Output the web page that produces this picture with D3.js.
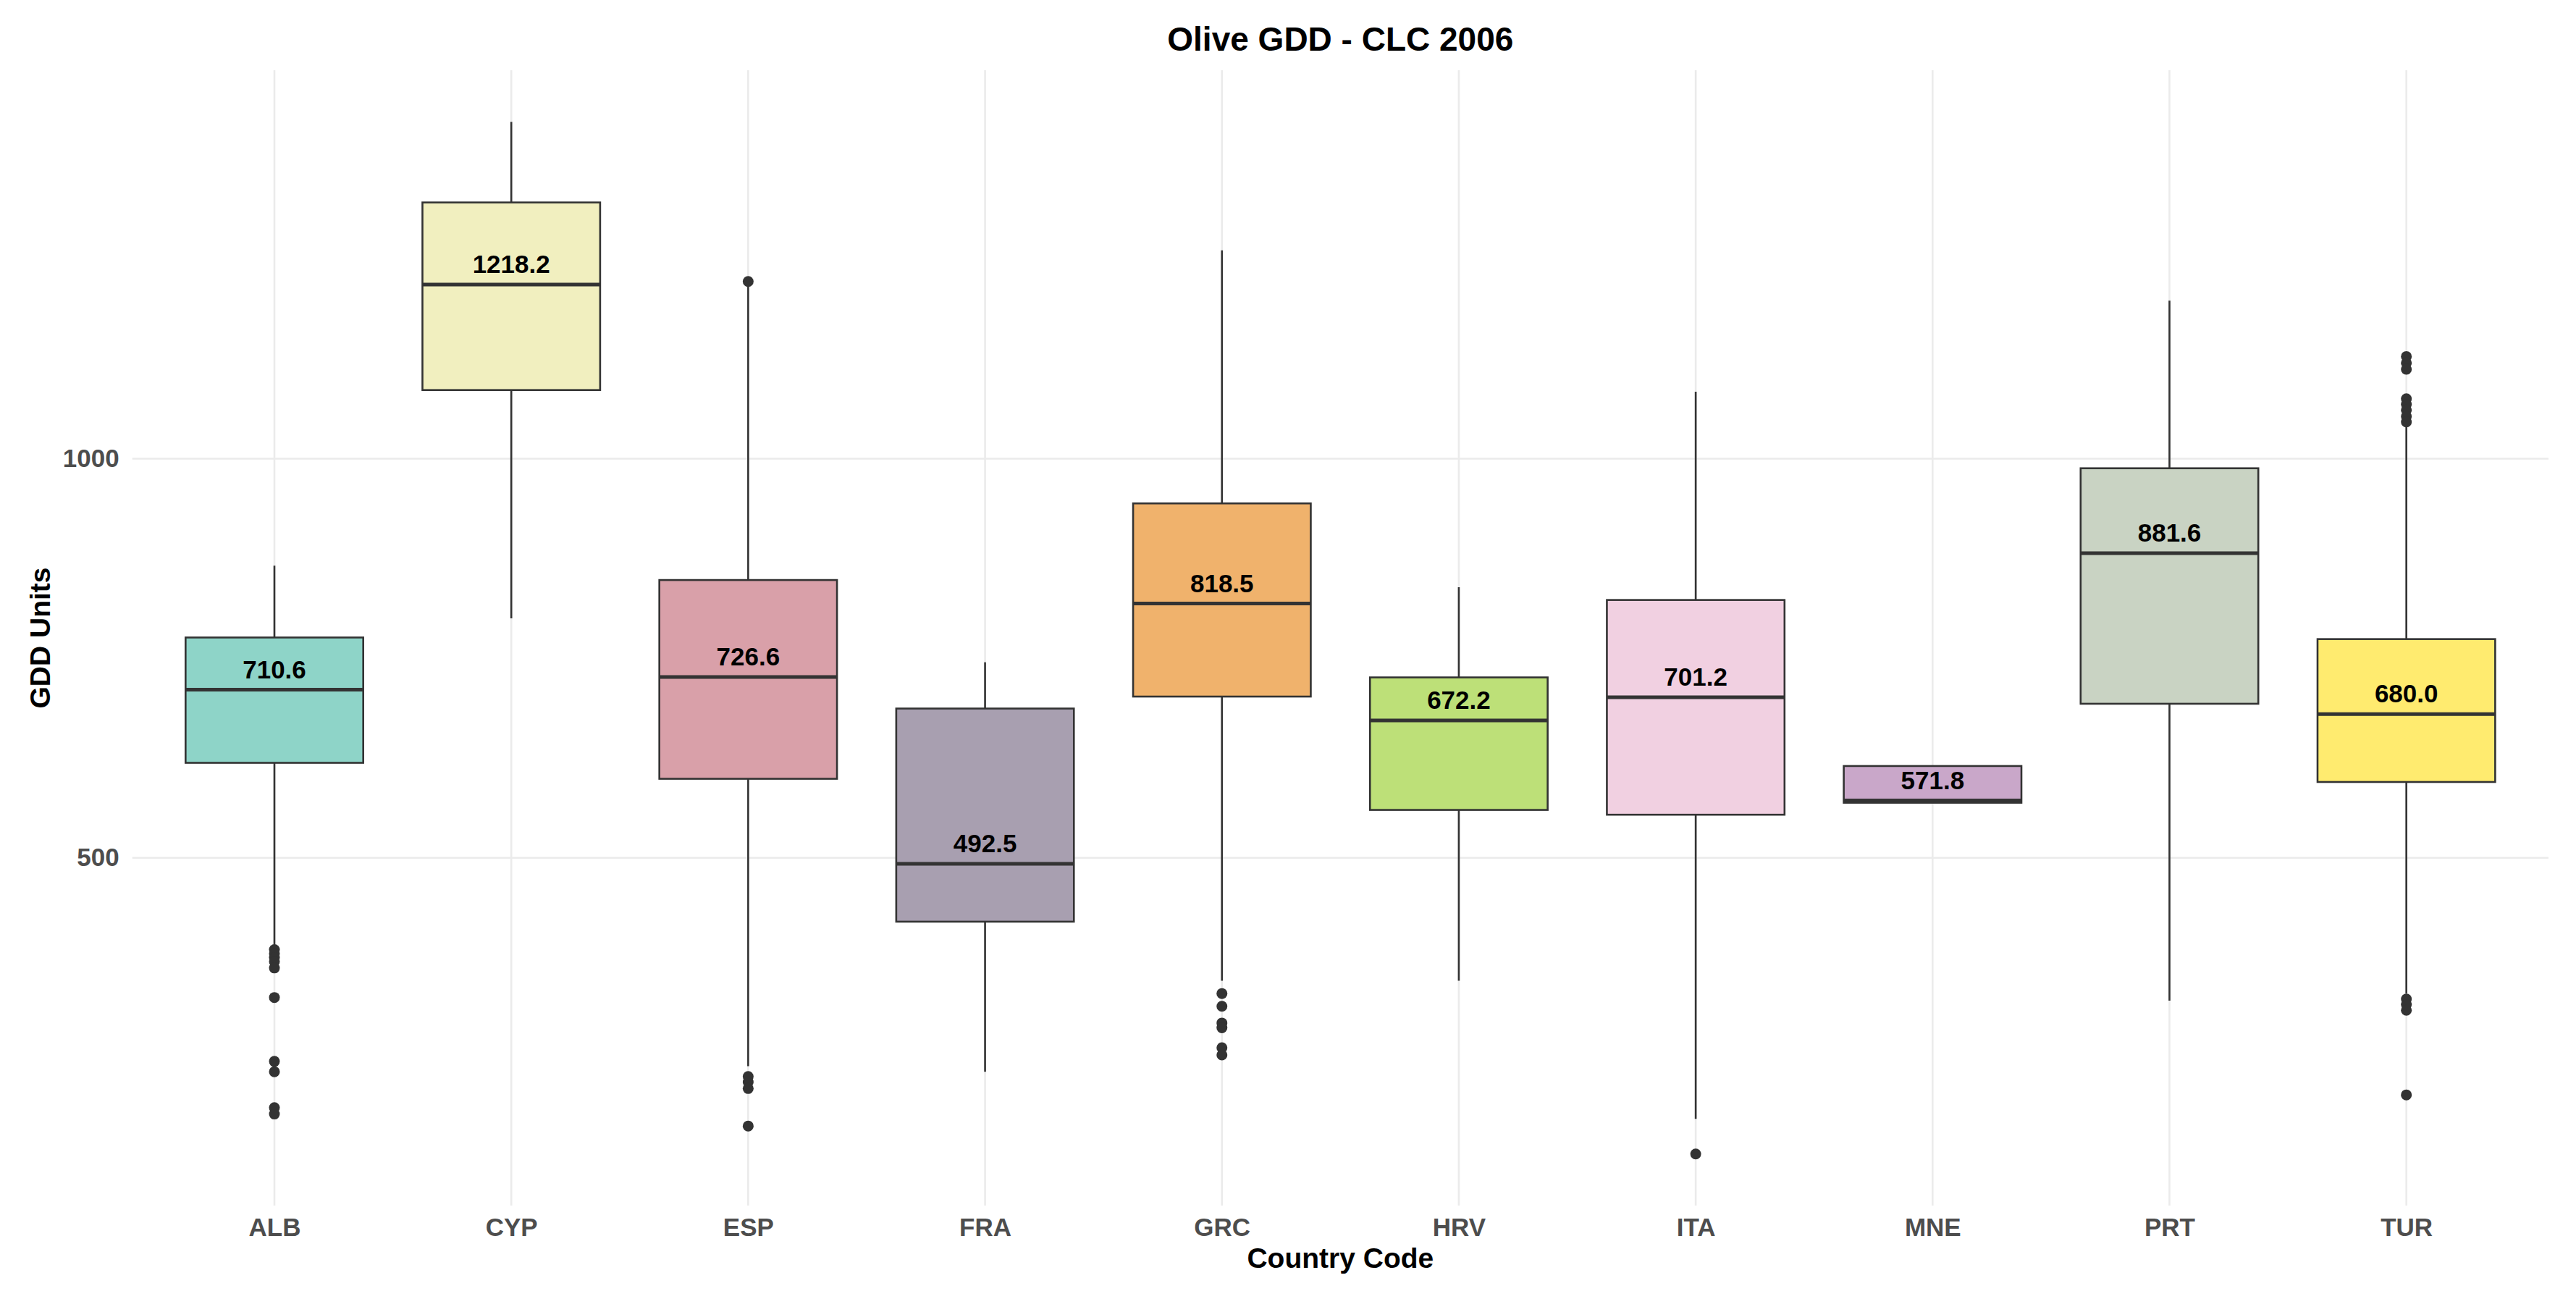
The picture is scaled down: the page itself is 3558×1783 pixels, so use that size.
<!DOCTYPE html>
<html>
<head>
<meta charset="utf-8">
<script src="https://cdn.jsdelivr.net/npm/d3@7"></script>
<style>
  html, body { margin: 0; padding: 0; background: #ffffff; }
  svg { display: block; }
  text { font-family: "Liberation Sans", Arial, Helvetica, sans-serif; }
</style>
</head>
<body>
<svg id="chart" width="3558" height="1783"></svg>
<script>
// ---- Data ----
const countries   = ["ALB", "CYP", "ESP", "FRA", "GRC", "HRV", "ITA", "MNE", "PRT", "TUR"];
const medians     = [710.6, 1218.2, 726.6, 492.5, 818.5, 672.2, 701.2, 571.8, 881.6, 680.0];
const q1          = [619, 1086, 599, 420, 702, 560, 554, 569, 693, 595];
const q3          = [776, 1321, 848, 687, 944, 726, 823, 615, 988, 774];
const whiskerLow  = [391, 800, 239, 232, 346, 346, 173, 569, 321, 330];
const whiskerHigh = [866, 1422, 1216, 745, 1261, 839, 1084, 615, 1198, 1041];
const outliers    = [
  [385, 380, 375, 370, 362, 325, 245, 232, 187, 179],
  [],
  [1222, 226, 219, 211, 164],
  [],
  [330, 314, 293, 287, 262, 253],
  [],
  [129],
  [],
  [],
  [1128, 1120, 1112, 1075, 1068, 1061, 1053, 1046, 323, 316, 309, 203]
];
const fills = ["#8ED4C8", "#F1EFBF", "#D9A0A9", "#A89FB0", "#F0B26C",
               "#BDE078", "#F1D0E1", "#C9A7C9", "#C9D3C3", "#FFEB6F"];
const yTicks = [500, 1000];
const titleText = "Olive GDD - CLC 2006";
const xTitle = "Country Code";
const yTitle = "GDD Units";

// ---- Layout ----
const panel = { left: 182.7, right: 3520, top: 97, bottom: 1665 };
const svg = d3.select("#chart");

const allVals = [].concat(whiskerLow, whiskerHigh, q1, q3, ...outliers);
const lo = d3.min(allVals), hi = d3.max(allVals);
const pad = 0.05 * (hi - lo);

const x = d3.scalePoint().domain(countries).range([panel.left, panel.right]).padding(0.6);
const y = d3.scaleLinear().domain([lo - pad, hi + pad]).range([panel.bottom, panel.top]);
const boxW = x.step() * 0.75;

const gridColor = "#EBEBEB";
const g = svg.append("g");

// grid
g.append("g").selectAll("line").data(yTicks).join("line")
  .attr("x1", panel.left).attr("x2", panel.right)
  .attr("y1", d => y(d)).attr("y2", d => y(d))
  .attr("stroke", gridColor).attr("stroke-width", 2.6);
g.append("g").selectAll("line").data(countries).join("line")
  .attr("x1", d => x(d)).attr("x2", d => x(d))
  .attr("y1", panel.top).attr("y2", panel.bottom)
  .attr("stroke", gridColor).attr("stroke-width", 2.6);

// data rows
const rows = countries.map((c, i) => ({
  c, med: medians[i], q1: q1[i], q3: q3[i], lo: whiskerLow[i], hi: whiskerHigh[i],
  out: outliers[i], fill: fills[i]
}));

const stroke = "#333333";
const box = g.append("g").selectAll("g").data(rows).join("g");

// whiskers
box.append("line")
  .attr("x1", d => x(d.c)).attr("x2", d => x(d.c))
  .attr("y1", d => y(d.hi)).attr("y2", d => y(d.q3))
  .attr("stroke", stroke).attr("stroke-width", 2.6);
box.append("line")
  .attr("x1", d => x(d.c)).attr("x2", d => x(d.c))
  .attr("y1", d => y(d.q1)).attr("y2", d => y(d.lo))
  .attr("stroke", stroke).attr("stroke-width", 2.6);

// boxes
box.append("rect")
  .attr("x", d => x(d.c) - boxW / 2).attr("width", boxW)
  .attr("y", d => y(d.q3)).attr("height", d => y(d.q1) - y(d.q3))
  .attr("fill", d => d.fill).attr("stroke", stroke).attr("stroke-width", 2.6);

// medians
box.append("line")
  .attr("x1", d => x(d.c) - boxW / 2).attr("x2", d => x(d.c) + boxW / 2)
  .attr("y1", d => y(d.med)).attr("y2", d => y(d.med))
  .attr("stroke", stroke).attr("stroke-width", 5);

// outliers
box.selectAll("circle").data(d => d.out.map(v => ({ c: d.c, v }))).join("circle")
  .attr("cx", d => x(d.c)).attr("cy", d => y(d.v)).attr("r", 7.5)
  .attr("fill", stroke);

// median labels
box.append("text")
  .attr("x", d => x(d.c)).attr("y", d => y(d.med) - 16)
  .attr("text-anchor", "middle")
  .attr("font-size", 35).attr("font-weight", "bold").attr("fill", "#000")
  .text(d => d.med.toFixed(1));

// axes
const xAxis = svg.append("g").attr("transform", `translate(0,${panel.bottom})`)
  .call(d3.axisBottom(x).tickSize(0).tickPadding(17));
const yAxis = svg.append("g").attr("transform", `translate(${panel.left},0)`)
  .call(d3.axisLeft(y).tickValues(yTicks).tickSize(0).tickPadding(18).tickFormat(d3.format("d")));
[xAxis, yAxis].forEach(a => {
  a.select(".domain").remove();
  a.selectAll("text").attr("font-size", 35).attr("font-weight", "bold")
    .attr("fill", "#4D4D4D").attr("font-family", "'Liberation Sans', Arial, sans-serif");
});

// titles
const cx = (panel.left + panel.right) / 2;
svg.append("text").attr("x", cx).attr("y", 70).attr("text-anchor", "middle")
  .attr("font-size", 46).attr("font-weight", "bold").attr("fill", "#000").text(titleText);
svg.append("text").attr("x", cx).attr("y", 1751).attr("text-anchor", "middle")
  .attr("font-size", 39).attr("font-weight", "bold").attr("fill", "#000").text(xTitle);
svg.append("text")
  .attr("transform", `translate(69,${(panel.top + panel.bottom) / 2}) rotate(-90)`)
  .attr("text-anchor", "middle")
  .attr("font-size", 39).attr("font-weight", "bold").attr("fill", "#000").text(yTitle);
</script>
</body>
</html>
